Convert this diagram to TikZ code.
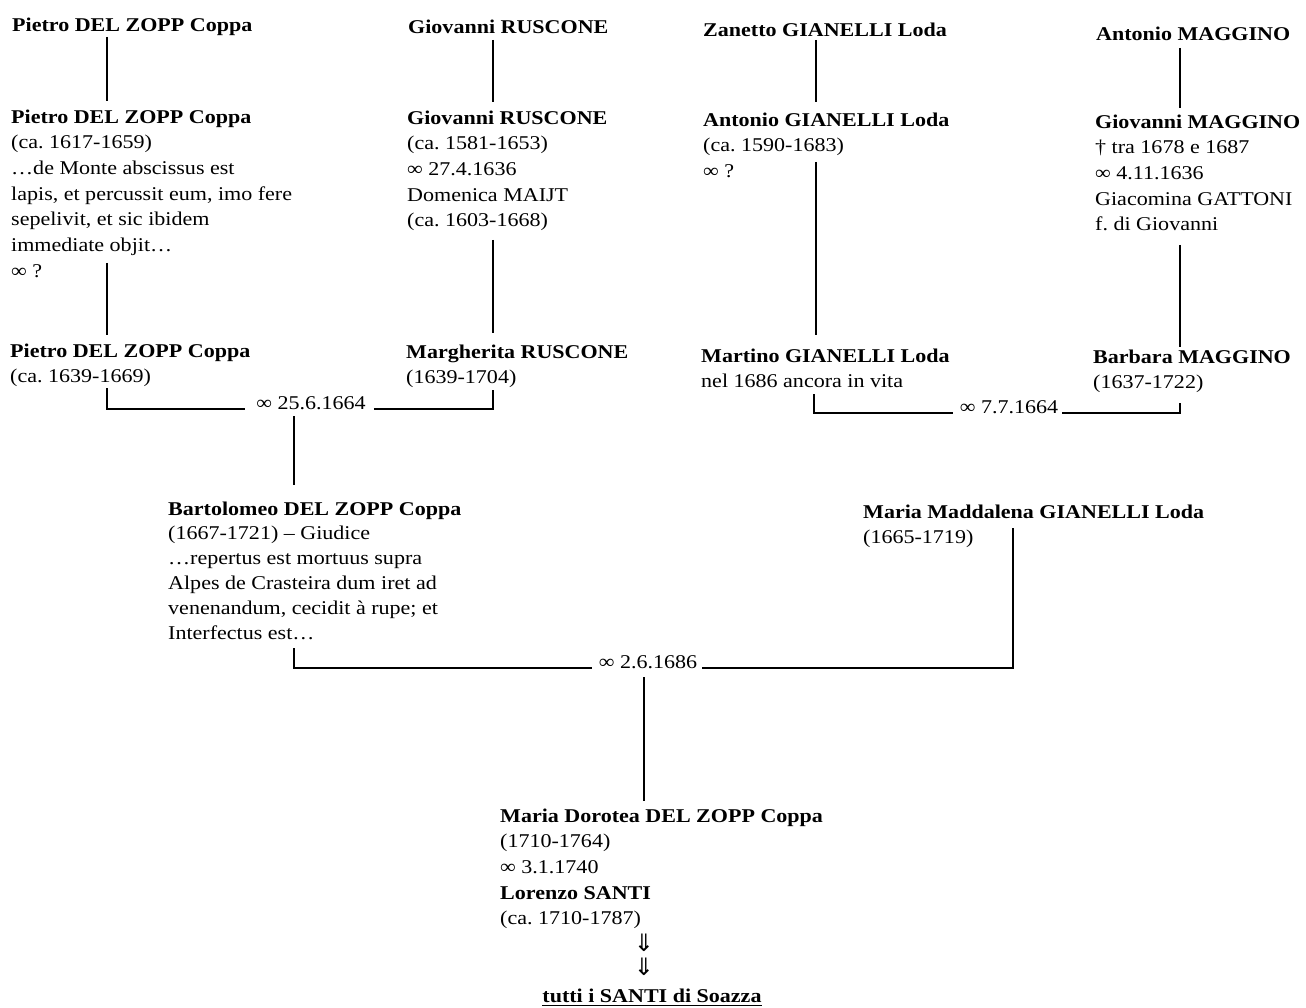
\documentclass[tikz,border=0pt]{standalone}
\usepackage{fontspec}
\setmainfont{Liberation Serif}[FakeStretch=1.13]
\newfontfamily\symfont{DejaVu Sans}
\frenchspacing
\newcommand\txtfont{\fontsize{19.5}{25.7}\selectfont}
\newcommand\txtfontB{\fontsize{19.5}{24.8}\selectfont}
\tikzset{
  person/.style={anchor=north west, inner sep=0pt, align=left, font=\txtfont},
  personB/.style={person, font=\txtfontB},
  wedding/.style={anchor=base, inner sep=0pt, font=\txtfont},
  arrowsym/.style={inner sep=0pt, font=\symfont\fontsize{24}{26}\selectfont},
  descent/.style={line width=1.9pt},
  union/.style={line width=2.5pt, line join=miter}
}
\begin{document}
\begin{tikzpicture}[x=1pt,y=-1pt]
\useasboundingbox (0,0) rectangle (1306,1008);

% ---- row 1
\node[person] (n11) at (12,13) {\strut\textbf{Pietro DEL ZOPP Coppa}};
\node[person] (n21) at (408,15) {\strut\textbf{Giovanni RUSCONE}};
\node[person] (n31) at (703,18) {\strut\textbf{Zanetto GIANELLI Loda}};
\node[person] (n41) at (1096,22) {\strut\textbf{Antonio MAGGINO}};

% ---- row 2
\node[person] (n12) at (11,105) {\strut\textbf{Pietro DEL ZOPP Coppa}\\(ca. 1617-1659)\\…de Monte abscissus est\\lapis, et percussit eum, imo fere\\sepelivit, et sic ibidem\\immediate objit…\\∞ ?};
\node[person] (n22) at (407,106) {\strut\textbf{Giovanni RUSCONE}\\(ca. 1581-1653)\\∞ 27.4.1636\\Domenica MAIJT\\(ca. 1603-1668)};
\node[person] (n32) at (703,108) {\strut\textbf{Antonio GIANELLI Loda}\\(ca. 1590-1683)\\∞ ?};
\node[person] (n42) at (1095,110) {\strut\textbf{Giovanni MAGGINO}\\† tra 1678 e 1687\\∞ 4.11.1636\\Giacomina GATTONI\\f. di Giovanni};

% ---- row 3
\node[person] (n13) at (10,339) {\strut\textbf{Pietro DEL ZOPP Coppa}\\(ca. 1639-1669)};
\node[person] (n23) at (406,340) {\strut\textbf{Margherita RUSCONE}\\(1639-1704)};
\node[person] (n33) at (701,344) {\strut\textbf{Martino GIANELLI Loda}\\nel 1686 ancora in vita};
\node[person] (n43) at (1093,345) {\strut\textbf{Barbara MAGGINO}\\(1637-1722)};

% ---- row 4
\node[personB] (nB) at (168,497.6) {\strut\textbf{Bartolomeo DEL ZOPP Coppa}\\(1667-1721) – Giudice\\…repertus est mortuus supra\\Alpes de Crasteira dum iret ad\\venenandum, cecidit à rupe; et\\Interfectus est…};
\node[person] (nM) at (863,500) {\strut\textbf{Maria Maddalena GIANELLI Loda}\\(1665-1719)};

% ---- row 5
\node[person] (nD) at (500,804) {\strut\textbf{Maria Dorotea DEL ZOPP Coppa}\\(1710-1764)\\∞ 3.1.1740\\\textbf{Lorenzo SANTI}\\(ca. 1710-1787)};
\node[arrowsym] (ar1) at (644,943) {⇓};
\node[arrowsym] (ar2) at (644,967) {⇓};
\node[wedding] (tutti) at (652,1002) {\textbf{tutti i SANTI di Soazza}};
\draw[line width=1.6pt] ([yshift=-3.5pt]tutti.base west) -- ([yshift=-3.5pt]tutti.base east);

% ---- wedding labels
\node[wedding] (m1) at (311,409) {∞ 25.6.1664};
\node[wedding] (m2) at (1009,413) {∞ 7.7.1664};
\node[wedding] (m3) at (648,668) {∞ 2.6.1686};

% ---- coordinates for line ends
\coordinate (a1) at (107,37);  \coordinate (a2) at (107,101);
\coordinate (a3) at (107,263); \coordinate (a4) at (107,335);
\coordinate (b1) at (493,40);  \coordinate (b2) at (493,102);
\coordinate (b3) at (493,240); \coordinate (b4) at (493,333);
\coordinate (c1) at (816,40);  \coordinate (c2) at (816,102);
\coordinate (c3) at (816,162); \coordinate (c4) at (816,335);
\coordinate (d1) at (1180,48); \coordinate (d2) at (1180,108);
\coordinate (d3) at (1180,245);\coordinate (d4) at (1180,347);
\coordinate (u1l) at (107,388); \coordinate (u1r) at (493,390);
\coordinate (u2l) at (814,394); \coordinate (u2r) at (1180,403);
\coordinate (u3l) at (294,648); \coordinate (u3r) at (1013,528);
\coordinate (k1t) at (294,416); \coordinate (k1b) at (294,485);
\coordinate (k3t) at (644,677); \coordinate (k3b) at (644,801);

% ---- descent lines
\draw[descent] (a1) -- (a2);
\draw[descent] (a3) -- (a4);
\draw[descent] (b1) -- (b2);
\draw[descent] (b3) -- (b4);
\draw[descent] (c1) -- (c2);
\draw[descent] (c3) -- (c4);
\draw[descent] (d1) -- (d2);
\draw[descent] (d3) -- (d4);
\draw[descent] (k1t) -- (k1b);
\draw[descent] (k3t) -- (k3b);

% ---- unions
\draw[union] (u1l) |- ([xshift=-11pt]m1.base west);
\draw[union] ([xshift=8pt]m1.base east) -| (u1r);
\draw[union] (u2l) |- ([xshift=-7pt]m2.base west);
\draw[union] ([xshift=4pt]m2.base east) -| (u2r);
\draw[union] (u3l) |- ([xshift=-7pt]m3.base west);
\draw[union] ([xshift=5pt]m3.base east) -| (u3r);
\end{tikzpicture}
\end{document}
